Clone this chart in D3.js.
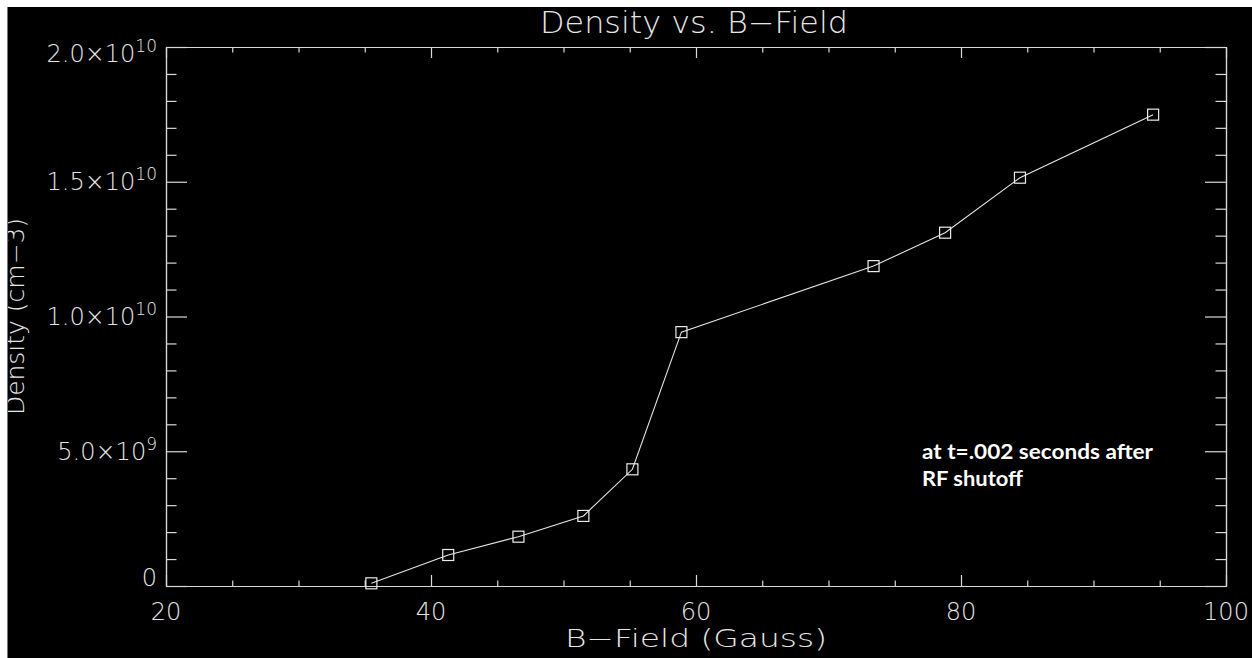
<!DOCTYPE html>
<html>
<head>
<meta charset="utf-8">
<script src="https://cdn.jsdelivr.net/npm/d3@7"></script>
<style>
  html, body { margin: 0; padding: 0; background: #000; }
  svg { display: block; }
  .hershey { font-family: "DejaVu Sans", "Liberation Sans", sans-serif; font-weight: 200; fill: #e6e6e6; }
</style>
</head>
<body>
<svg id="chart" width="1252" height="658"></svg>
<script>
// ---- data ----
const bField = [35.5, 41.3, 46.6, 51.5, 55.2, 58.9, 73.4, 78.8, 84.45, 94.5];
const density = [1.0e8, 1.15e9, 1.83e9, 2.6e9, 4.33e9, 9.42e9, 11.87e9, 13.11e9, 15.15e9, 17.49e9];
const xMajorTicks = [20, 40, 60, 80, 100];
const xMinorTicks = [25, 30, 35, 45, 50, 55, 65, 70, 75, 85, 90, 95];
const yMajorTicks = [0, 5e9, 1e10, 1.5e10, 2e10];
const yMinorTicks = [1e9, 2e9, 3e9, 4e9, 6e9, 7e9, 8e9, 9e9, 11e9, 12e9, 13e9, 14e9, 16e9, 17e9, 18e9, 19e9];
const yTickMantissa = ["0", "5.0×10", "1.0×10", "1.5×10", "2.0×10"];
const yTickExponent = ["", "9", "10", "10", "10"];
const xTickLabels = ["20", "40", "60", "80", "100"];
const titleText = "Density vs. B\u2212Field";
const xTitleText = "B\u2212Field (Gauss)";
const yTitleText = "Density (cm\u22123)";
const noteLines = ["at t=.002 seconds after", "RF shutoff"];

const W = 1252, H = 658;
const svg = d3.select("#chart");
svg.append("rect").attr("width", W).attr("height", H).attr("fill", "#000");

const x = d3.scaleLinear().domain([20, 100]).range([166, 1226]);
const y = d3.scaleLinear().domain([0, 2e10]).range([586, 47]);

const axisColor = "#d9d9d9";
function styleAxis(g) {
  g.selectAll("path.domain").attr("stroke", axisColor).attr("stroke-width", 1.2);
  g.selectAll(".tick line").attr("stroke", axisColor).attr("stroke-width", 1.2);
  g.selectAll(".tick text").remove();
}
const xMajLen = 11, xMinLen = 5.5, yMajLen = 21, yMinLen = 10.5;

// bottom
svg.append("g").attr("transform", `translate(0,${y(0)})`)
  .call(d3.axisBottom(x).tickValues(xMajorTicks).tickSize(-xMajLen).tickSizeOuter(0).tickFormat(""))
  .call(styleAxis);
svg.append("g").attr("transform", `translate(0,${y(0)})`)
  .call(d3.axisBottom(x).tickValues(xMinorTicks).tickSize(-xMinLen).tickSizeOuter(0).tickFormat(""))
  .call(styleAxis);
// top
svg.append("g").attr("transform", `translate(0,${y(2e10)})`)
  .call(d3.axisTop(x).tickValues(xMajorTicks).tickSize(-xMajLen).tickSizeOuter(0).tickFormat(""))
  .call(styleAxis);
svg.append("g").attr("transform", `translate(0,${y(2e10)})`)
  .call(d3.axisTop(x).tickValues(xMinorTicks).tickSize(-xMinLen).tickSizeOuter(0).tickFormat(""))
  .call(styleAxis);
// left
svg.append("g").attr("transform", `translate(${x(20)},0)`)
  .call(d3.axisLeft(y).tickValues(yMajorTicks).tickSize(-yMajLen).tickSizeOuter(0).tickFormat(""))
  .call(styleAxis);
svg.append("g").attr("transform", `translate(${x(20)},0)`)
  .call(d3.axisLeft(y).tickValues(yMinorTicks).tickSize(-yMinLen).tickSizeOuter(0).tickFormat(""))
  .call(styleAxis);
// right
svg.append("g").attr("transform", `translate(${x(100)},0)`)
  .call(d3.axisRight(y).tickValues(yMajorTicks).tickSize(-yMajLen).tickSizeOuter(0).tickFormat(""))
  .call(styleAxis);
svg.append("g").attr("transform", `translate(${x(100)},0)`)
  .call(d3.axisRight(y).tickValues(yMinorTicks).tickSize(-yMinLen).tickSizeOuter(0).tickFormat(""))
  .call(styleAxis);

// x tick labels
svg.append("g").selectAll("text").data(xMajorTicks).join("text")
  .attr("class", "hershey")
  .attr("x", d => x(d)).attr("y", y(0) + 34)
  .attr("text-anchor", "middle").attr("font-size", 24)
  .text((d, i) => xTickLabels[i]);

// y tick labels with superscript exponent
const yOffsets = yMajorTicks.map((d, i) => i === 0 ? 0 : (i === yMajorTicks.length - 1 ? 15 : 8.5));
const yl = svg.append("g").selectAll("text").data(yMajorTicks).join("text")
  .attr("class", "hershey")
  .attr("x", 157).attr("y", (d, i) => y(d) + yOffsets[i])
  .attr("text-anchor", "end").attr("font-size", 24);
yl.append("tspan").text((d, i) => yTickMantissa[i]);
yl.append("tspan").attr("font-size", 17).attr("dy", -10).text((d, i) => yTickExponent[i]);

// line and markers
const pts = bField.map((b, i) => [b, density[i]]);
svg.append("path").datum(pts)
  .attr("fill", "none").attr("stroke", "#e6e6e6").attr("stroke-width", 1.1)
  .attr("d", d3.line().x(d => x(d[0])).y(d => y(d[1])));
const ms = 11;
svg.append("g").selectAll("rect").data(pts).join("rect")
  .attr("x", d => x(d[0]) - ms / 2).attr("y", d => y(d[1]) - ms / 2)
  .attr("width", ms).attr("height", ms)
  .attr("fill", "none").attr("stroke", "#ececec").attr("stroke-width", 1.2);

// titles
svg.append("text").attr("class", "hershey")
  .attr("x", 694).attr("y", 33).attr("text-anchor", "middle").attr("font-size", 30)
  .attr("textLength", 308).attr("lengthAdjust", "spacingAndGlyphs")
  .text(titleText);
svg.append("text").attr("class", "hershey")
  .attr("x", 696).attr("y", 647).attr("text-anchor", "middle").attr("font-size", 25)
  .attr("textLength", 262).attr("lengthAdjust", "spacingAndGlyphs")
  .text(xTitleText);
svg.append("text").attr("class", "hershey")
  .attr("transform", `translate(24,${(y(0) + y(2e10)) / 2}) rotate(-90)`)
  .attr("text-anchor", "middle").attr("font-size", 24)
  .attr("textLength", 197).attr("lengthAdjust", "spacingAndGlyphs")
  .text(yTitleText);

// annotation
const noteLengths = [231, 101];
const note = svg.append("g").attr("transform", "translate(922,0)");
note.selectAll("text").data(noteLines).join("text")
  .attr("x", 0).attr("y", (d, i) => 459 + i * 27)
  .attr("font-family", "Lato, 'Open Sans', sans-serif").attr("font-weight", 700)
  .attr("font-size", 20).attr("fill", "#ffffff")
  .attr("textLength", (d, i) => noteLengths[i]).attr("lengthAdjust", "spacingAndGlyphs")
  .text(d => d);

// white frame on top/left edge of the picture
svg.append("rect").attr("x", 0).attr("y", 0).attr("width", W).attr("height", 7).attr("fill", "#fff");
svg.append("rect").attr("x", 0).attr("y", 0).attr("width", 7).attr("height", H).attr("fill", "#fff");
svg.append("line").attr("x1", 7.5).attr("x2", 7.5).attr("y1", 7).attr("y2", H)
  .attr("stroke", "#777").attr("stroke-width", 1);
</script>
</body>
</html>
